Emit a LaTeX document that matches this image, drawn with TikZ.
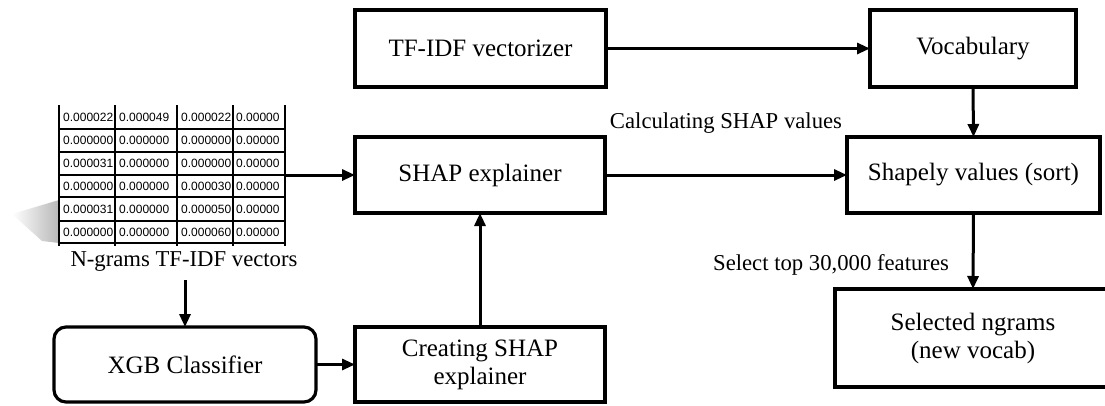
\documentclass[tikz,border=0pt]{standalone}
\usepackage{fontspec}
\setmainfont{Liberation Serif}
\newfontfamily\tabfont{Liberation Sans}
\usetikzlibrary{arrows.meta}
\begin{document}
\begin{tikzpicture}[x=1pt,y=-1pt,
  box/.style={draw, line width=3.2pt, inner sep=0pt, outer sep=0pt, align=center,
    font=\fontsize{25}{28}\selectfont},
  rbox/.style={box, rounded corners=12pt},
  lbl/.style={inner sep=0pt, font=\fontsize{22.7}{26}\selectfont},
  arr/.style={line width=3pt, -{Triangle[length=13pt,width=11pt]}},
  grid/.style={line width=1.5pt},
  cell/.style={anchor=west, inner sep=0pt, font=\tabfont\fontsize{12}{14}\selectfont}
]
\useasboundingbox (0,0) rectangle (1105,405);

% shadow of the table
\shade[left color=white, right color=black!28] (12,214) -- (59,200) -- (59,243) -- (42,241) -- cycle;

% table grid
\fill[white] (59,105) rectangle (285,243);
\foreach \y in {129,152,175,197,221,243} \draw[grid] (59,\y) -- (285,\y);
\foreach \x in {59,115,177,233,285} \draw[grid] (\x,105) -- (\x,246);
\foreach \r/\ya/\yb/\a/\b/\c/\d in {
  1/105/129/0.000022/0.000049/0.000022/0.00000,
  2/129/152/0.000000/0.000000/0.000000/0.00000,
  3/152/175/0.000031/0.000000/0.000000/0.00000,
  4/175/197/0.000000/0.000000/0.000030/0.00000,
  5/197/221/0.000031/0.000000/0.000050/0.00000,
  6/221/243/0.000000/0.000000/0.000060/0.00000} {
  \node[cell] (c\r a) at (63,{(\ya+\yb)/2}) {\a};
  \node[cell] (c\r b) at (119,{(\ya+\yb)/2}) {\b};
  \node[cell] (c\r c) at (181,{(\ya+\yb)/2}) {\c};
  \node[cell] (c\r d) at (236,{(\ya+\yb)/2}) {\d};
}
\node[minimum width=226pt, minimum height=138pt, inner sep=0pt, outer sep=0pt] (table) at (172,174) {};

% boxes
\node[box, minimum width=251pt, minimum height=77pt] (tfidf) at (480.5,48.5) {TF-IDF vectorizer};
\node[box, minimum width=206pt, minimum height=77pt] (vocab) at (973,48.5) {Vocabulary};
\node[box, minimum width=250pt, minimum height=76pt] (shapexp) at (480,175) {SHAP explainer};
\node[box, minimum width=253pt, minimum height=76pt] (shapely) at (973.5,175) {Shapely values (sort)};
\node[box, minimum width=250pt, minimum height=75pt] (creating) at (480,364.5) {Creating SHAP\\explainer};
\node[rbox, minimum width=262pt, minimum height=75pt] (xgb) at (185,364.5) {XGB Classifier};
\node[box, minimum width=276pt, minimum height=98pt] (selected) at (973,338) {Selected ngrams\\(new vocab)};

% labels
\node[lbl] (ngl) at (184,262) {N-grams TF-IDF vectors};
\node[lbl] (calc) at (726,123) {Calculating SHAP values};
\node[lbl] (sel) at (831,265) {Select top 30,000 features};

% connectors
\draw[arr] (tfidf.east) -- (vocab.west);
\draw[arr] (vocab.south) -- (shapely.north);
\draw[arr] (shapexp.west -| table.east) -- (shapexp.west);
\draw[arr] (shapexp.east) -- (shapely.west);
\draw[arr] (shapely.south) -- (selected.north);
\draw[arr] (xgb.north |- ngl.south) ++(0,8) -- (xgb.north);
\draw[arr] (xgb.east) -- (creating.west);
\draw[arr] (creating.north) -- (shapexp.south);
\end{tikzpicture}
\end{document}
